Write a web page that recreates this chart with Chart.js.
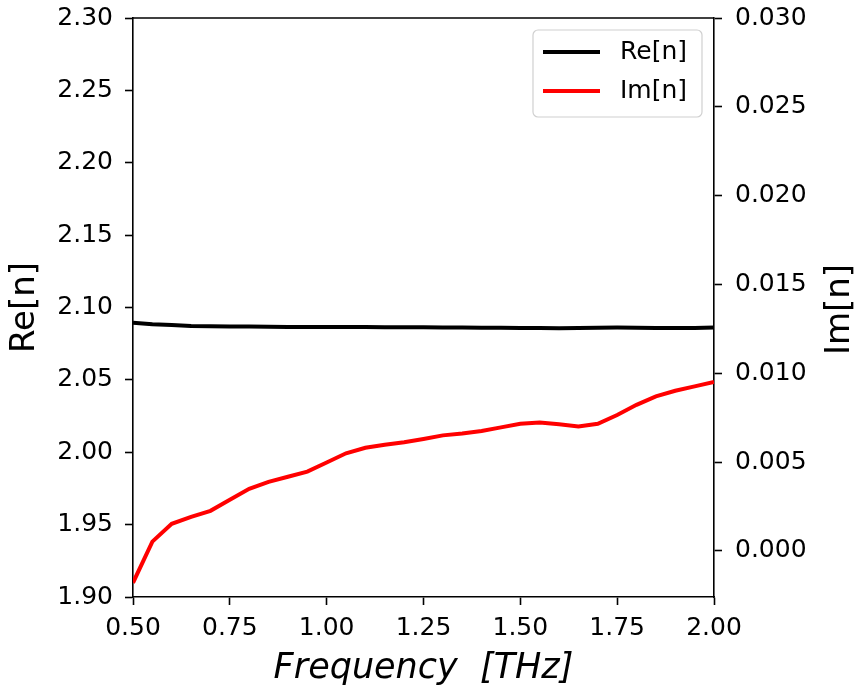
<!DOCTYPE html>
<html>
<head>
<meta charset="utf-8">
<script src="https://cdn.jsdelivr.net/npm/chart.js@4"></script>
<style>
  html, body { margin: 0; padding: 0; background: #fff; }
  #wrap { width: 859px; height: 692px; }
</style>
</head>
<body>
<div id="wrap"><canvas id="nChart" width="859" height="692"></canvas></div>
<script>
const frequency = [0.50, 0.55, 0.60, 0.65, 0.70, 0.75, 0.80, 0.85, 0.90, 0.95,
  1.00, 1.05, 1.10, 1.15, 1.20, 1.25, 1.30, 1.35, 1.40, 1.45,
  1.50, 1.55, 1.60, 1.65, 1.70, 1.75, 1.80, 1.85, 1.90, 1.95, 2.00];

const reN = [2.0895, 2.0885, 2.0879, 2.0872, 2.0870, 2.0869, 2.0868, 2.0867, 2.0866, 2.0866,
  2.0866, 2.0866, 2.0865, 2.0864, 2.0863, 2.0863, 2.0862, 2.0861, 2.0860, 2.0860,
  2.0859, 2.0858, 2.0857, 2.0858, 2.0860, 2.0861, 2.0860, 2.0859, 2.0858, 2.0859, 2.0862];

const imN = [-0.00180, 0.00052, 0.00152, 0.00191, 0.00225, 0.00287, 0.00349, 0.00388, 0.00417, 0.00446,
  0.00497, 0.00549, 0.00580, 0.00597, 0.00611, 0.00630, 0.00650, 0.00661, 0.00675, 0.00695,
  0.00715, 0.00722, 0.00712, 0.00700, 0.00715, 0.00765, 0.00822, 0.00870, 0.00901, 0.00926, 0.00951];

const FONT = 'DejaVu Sans';

// box top edge, right-axis title and the in-plot legend
const extras = {
  id: 'extras',
  afterDatasetsDraw(chart) {
    const ctx = chart.ctx;
    const a = chart.chartArea;
    ctx.save();
    ctx.strokeStyle = '#000';
    ctx.lineWidth = 1.6;
    ctx.beginPath();
    ctx.moveTo(a.left, a.top);
    ctx.lineTo(a.right, a.top);
    ctx.stroke();

    // legend
    const x0 = 533, y0 = 30, w = 169, h = 87, r = 5;
    ctx.beginPath();
    ctx.roundRect(x0, y0, w, h, r);
    ctx.fillStyle = 'rgba(255,255,255,0.8)';
    ctx.fill();
    ctx.strokeStyle = '#d0d0d0';
    ctx.lineWidth = 1.2;
    ctx.stroke();
    ctx.font = '25px "' + FONT + '"';
    ctx.textBaseline = 'middle';
    ctx.textAlign = 'left';
    chart.data.datasets.forEach((ds, i) => {
      const yy = 52 + i * 39;
      ctx.strokeStyle = ds.borderColor;
      ctx.lineWidth = 4;
      ctx.beginPath();
      ctx.moveTo(543, yy);
      ctx.lineTo(600, yy);
      ctx.stroke();
      ctx.fillStyle = '#000';
      ctx.fillText(ds.label, 620, yy);
    });

    // right axis title, reading bottom to top
    ctx.translate(840, (a.top + a.bottom) / 2 + 2);
    ctx.rotate(-Math.PI / 2);
    ctx.font = '34px "' + FONT + '"';
    ctx.textAlign = 'center';
    ctx.fillStyle = '#000';
    ctx.fillText('Im[n]', 0, 0);
    ctx.restore();
  }
};

const fitY = (w) => (s) => { s.width = w; s.paddingTop = 0; s.paddingBottom = 0; };

new Chart(document.getElementById('nChart'), {
  type: 'line',
  data: {
    datasets: [
      {
        label: 'Re[n]',
        data: frequency.map((f, i) => ({ x: f, y: reN[i] })),
        borderColor: '#000000',
        backgroundColor: '#000000',
        borderWidth: 4,
        pointRadius: 0,
        tension: 0,
        yAxisID: 'y'
      },
      {
        label: 'Im[n]',
        data: frequency.map((f, i) => ({ x: f, y: imN[i] })),
        borderColor: '#ff0000',
        backgroundColor: '#ff0000',
        borderWidth: 4,
        pointRadius: 0,
        tension: 0,
        yAxisID: 'y1'
      }
    ]
  },
  options: {
    responsive: false,
    animation: false,
    layout: { padding: { top: 18, left: 5, right: 0, bottom: 2 } },
    plugins: {
      legend: { display: false },
      tooltip: { enabled: false }
    },
    scales: {
      x: {
        type: 'linear',
        min: 0.5,
        max: 2.0,
        afterFit: (s) => { s.height = 93; s.paddingLeft = 0; s.paddingRight = 0; },
        ticks: {
          stepSize: 0.25,
          color: '#000',
          font: { family: FONT, size: 25 },
          padding: 8,
          callback: (v) => v.toFixed(2)
        },
        grid: { drawOnChartArea: false, tickLength: 8, tickWidth: 1.6, tickColor: '#000' },
        border: { color: '#000', width: 1.6 },
        title: {
          display: true,
          text: 'Frequency  [THz]',
          color: '#000',
          font: { family: FONT, size: 35, style: 'italic' },
          padding: 0
        }
      },
      y: {
        type: 'linear',
        position: 'left',
        min: 1.9,
        max: 2.3,
        afterFit: fitY(128),
        ticks: {
          stepSize: 0.05,
          color: '#000',
          font: { family: FONT, size: 25 },
          padding: 12,
          callback: (v) => v.toFixed(2)
        },
        grid: { drawOnChartArea: false, tickLength: 8, tickWidth: 1.6, tickColor: '#000' },
        border: { color: '#000', width: 1.6 },
        title: {
          display: true,
          text: 'Re[n]',
          color: '#000',
          font: { family: FONT, size: 34 },
          padding: 0
        }
      },
      y1: {
        type: 'linear',
        position: 'right',
        min: -0.0026,
        max: 0.030,
        afterFit: fitY(145),
        ticks: {
          stepSize: 0.005,
          includeBounds: false,
          color: '#000',
          font: { family: FONT, size: 25 },
          padding: 13,
          callback: (v) => v.toFixed(3)
        },
        grid: { drawOnChartArea: false, tickLength: 8, tickWidth: 1.6, tickColor: '#000' },
        border: { color: '#000', width: 1.6 }
      }
    }
  },
  plugins: [extras]
});
</script>
</body>
</html>
